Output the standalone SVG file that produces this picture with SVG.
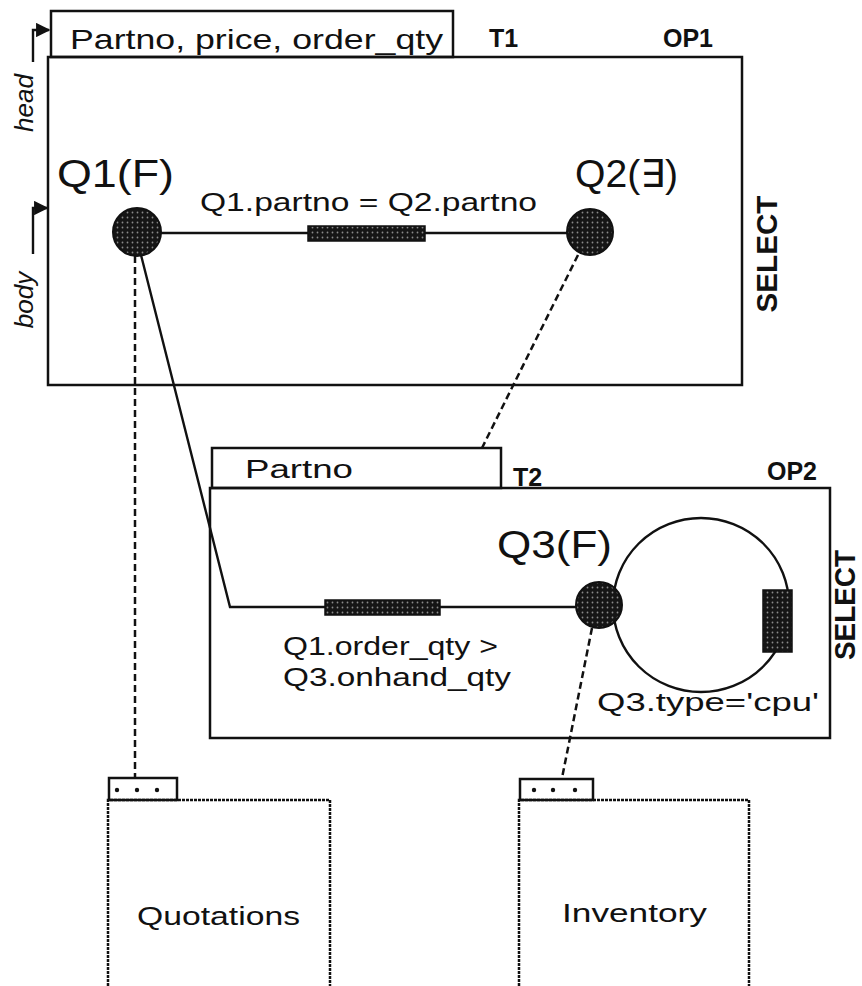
<svg xmlns="http://www.w3.org/2000/svg" width="862" height="986" viewBox="0 0 862 986">
<style>
text{font-family:"Liberation Sans","DejaVu Sans",sans-serif;fill:#111}
.box{fill:none;stroke:#111;stroke-width:2.5}
.rel{fill:none;stroke:#111;stroke-width:2.5;stroke-dasharray:3 1}
.edge{fill:none;stroke:#111;stroke-width:2.4}
.dash{fill:none;stroke:#111;stroke-width:2.5;stroke-dasharray:7 4}
.node{fill:url(#dots);stroke:#111;stroke-width:2}
.pred{fill:url(#dots);stroke:#111;stroke-width:1.5}
.lbl{font-size:25px}
.big{font-size:38px}
.tag{font-size:25px;font-weight:bold}
.sel{font-size:30px;font-weight:bold}
</style>
<defs>
<pattern id="dots" width="5" height="5" patternUnits="userSpaceOnUse">
<rect width="5" height="5" fill="#151515"/>
<circle cx="2.5" cy="2.5" r="0.9" fill="#8a8a8a"/>
</pattern>
<marker id="arr" viewBox="0 0 10 10" refX="9" refY="5" markerWidth="6" markerHeight="6" orient="auto">
<path d="M0,0 L10,5 L0,10 z" fill="#111"/>
</marker>
</defs>

<g id="OP1">
<rect class="box" x="51" y="11" width="402" height="46"/>
<text x="70" y="49" textLength="373" lengthAdjust="spacingAndGlyphs" font-size="28">Partno, price, order_qty</text>
<rect class="box" x="48" y="57" width="694" height="328"/>
<text class="tag" x="489" y="47">T1</text>
<text class="tag" x="663" y="47">OP1</text>
<text class="sel" transform="translate(777,254) rotate(-90)" text-anchor="middle" textLength="117" lengthAdjust="spacingAndGlyphs">SELECT</text>
<text transform="translate(33,103) rotate(-90)" text-anchor="middle" font-style="italic" font-size="26">head</text>
<text transform="translate(33,300) rotate(-90)" text-anchor="middle" font-style="italic" font-size="26">body</text>
<path class="edge" d="M33,62 L33,30 L49,30" marker-end="url(#arr)"/>
<path class="edge" d="M33,254 L33,208 L47,208" marker-end="url(#arr)"/>
</g>

<g id="OP2">
<rect class="box" x="212" y="448" width="289" height="40"/>
<text class="lbl" x="245" y="478" textLength="108" lengthAdjust="spacingAndGlyphs">Partno</text>
<rect class="box" x="210" y="488" width="620" height="250"/>
<text class="tag" x="513" y="486">T2</text>
<text class="tag" x="767" y="480">OP2</text>
<text class="sel" transform="translate(855,605) rotate(-90)" text-anchor="middle" textLength="110" lengthAdjust="spacingAndGlyphs">SELECT</text>
</g>

<g id="connectors">
<line class="edge" x1="160" y1="233" x2="567" y2="233"/>
<rect class="pred" x="308" y="226" width="117" height="15"/>
<text class="lbl" x="200" y="211" textLength="337" lengthAdjust="spacingAndGlyphs">Q1.partno = Q2.partno</text>
<polyline class="edge" points="141,255 230,607 576,607"/>
<rect class="pred" x="325" y="600" width="115" height="15"/>
<text class="lbl" x="283" y="655" textLength="215" lengthAdjust="spacingAndGlyphs">Q1.order_qty &gt;</text>
<text class="lbl" x="283" y="686" textLength="228" lengthAdjust="spacingAndGlyphs">Q3.onhand_qty</text>
<ellipse class="edge" cx="701" cy="605" rx="88" ry="87" stroke-width="2.8"/>
<rect class="pred" x="763" y="590" width="29" height="62"/>
<text class="lbl" x="597" y="711" textLength="222" lengthAdjust="spacingAndGlyphs">Q3.type='cpu'</text>
<line class="dash" x1="135" y1="256" x2="135" y2="777"/>
<line class="dash" x1="578" y1="255" x2="482" y2="448"/>
<line class="dash" x1="592" y1="628" x2="562" y2="778"/>
</g>

<g id="Q1">
<circle class="node" cx="137" cy="232" r="24"/>
<text class="big" x="57" y="187" textLength="117" lengthAdjust="spacingAndGlyphs">Q1(F)</text>
</g>
<g id="Q2">
<circle class="node" cx="590" cy="232" r="23"/>
<text class="big" x="575" y="187" textLength="103" lengthAdjust="spacingAndGlyphs">Q2(∃)</text>
</g>
<g id="Q3">
<circle class="node" cx="599" cy="605" r="23"/>
<text class="big" x="497" y="558" textLength="115" lengthAdjust="spacingAndGlyphs">Q3(F)</text>
</g>

<g id="Quotations">
<rect class="box" x="109" y="778" width="68" height="22" stroke-width="2"/>
<circle cx="117" cy="790" r="2.2" fill="#111"/><circle cx="137" cy="790" r="2.2" fill="#111"/><circle cx="157" cy="790" r="2.2" fill="#111"/>
<path class="rel" d="M108,990 L108,800 L330,800 L330,990"/>
<text class="lbl" x="137" y="925" textLength="163" lengthAdjust="spacingAndGlyphs">Quotations</text>
</g>

<g id="Inventory">
<rect class="box" x="520" y="779" width="73" height="21" stroke-width="2"/>
<circle cx="534" cy="790" r="2.2" fill="#111"/><circle cx="553" cy="790" r="2.2" fill="#111"/><circle cx="575" cy="790" r="2.2" fill="#111"/>
<path class="rel" d="M519,990 L519,800 L749,800 L749,990"/>
<text class="lbl" x="562" y="922" textLength="145" lengthAdjust="spacingAndGlyphs">Inventory</text>
</g>
</svg>
